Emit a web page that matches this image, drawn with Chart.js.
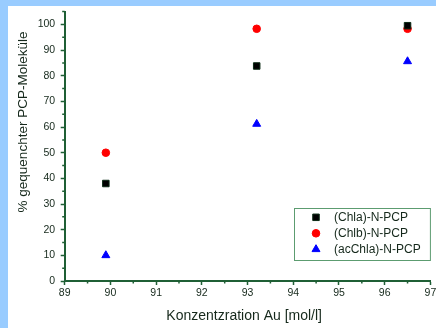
<!DOCTYPE html>
<html>
<head>
<meta charset="utf-8">
<script src="https://cdn.jsdelivr.net/npm/chart.js@4/dist/chart.umd.min.js"></script>
<style>
  html, body { margin: 0; padding: 0; }
  body { width: 436px; height: 328px; background: #99ccff; position: relative; overflow: hidden; }
  #panel { position: absolute; left: 8px; top: 6px; width: 428px; height: 322px; background: #ffffff; }
  canvas { display: block; }
</style>
</head>
<body>
<div id="panel"><canvas id="chart" width="428" height="322"></canvas></div>
<script>
// Gold concentration (mol/l) for each measurement
const concentrations = [89.9, 93.2, 96.5];

// Percentage of quenched PCP molecules per complex
const chlaValues   = [38, 83.8, 99.5];
const chlbValues   = [50, 98.3, 98.3];
const acChlaValues = [10, 61.2, 85.6];

const seriesLabels = ['(Chla)-N-PCP', '(Chlb)-N-PCP', '(acChla)-N-PCP'];

// Axis ticks
const xMajorTicks = [89, 90, 91, 92, 93, 94, 95, 96, 97];
const xMinorTicks = [89.5, 90.5, 91.5, 92.5, 93.5, 94.5, 95.5, 96.5];
const yMajorTicks = [0, 10, 20, 30, 40, 50, 60, 70, 80, 90, 100];
const yMinorTicks = [5, 15, 25, 35, 45, 55, 65, 75, 85, 95, 105];

const xTitle = 'Konzentzration Au [mol/l]';
const yTitle = '% gequenchter PCP-Moleküle';

const AXIS_COLOR = '#1f5f35';
const TEXT_COLOR = '#15281b';
const FONT_FAMILY = '"Liberation Sans", Arial, sans-serif';

function points(values) {
  return values.map((v, i) => ({ x: concentrations[i], y: v }));
}

// Minor ticks, axis titles and the framed legend
const decorations = {
  id: 'decorations',
  beforeDatasetsDraw(chart) {
    const { ctx, scales: { x, y } } = chart;
    ctx.save();
    ctx.strokeStyle = AXIS_COLOR;
    ctx.lineWidth = 1.5;
    ctx.beginPath();
    xMinorTicks.forEach(v => {
      const px = x.getPixelForValue(v);
      ctx.moveTo(px, y.bottom);
      ctx.lineTo(px, y.bottom + 2.5);
    });
    yMinorTicks.forEach(v => {
      const py = y.getPixelForValue(v);
      ctx.moveTo(x.left, py);
      ctx.lineTo(x.left - 2.5, py);
    });
    ctx.stroke();
    ctx.restore();
  },
  afterDraw(chart) {
    const { ctx, chartArea } = chart;
    ctx.save();
    ctx.fillStyle = TEXT_COLOR;

    // x-axis title
    ctx.font = '14px ' + FONT_FAMILY;
    ctx.textAlign = 'right';
    ctx.textBaseline = 'middle';
    ctx.fillText(xTitle, 314, 310.5);

    // y-axis title, rotated
    ctx.font = '13.5px ' + FONT_FAMILY;
    ctx.save();
    ctx.translate(15, 116);
    ctx.rotate(-Math.PI / 2);
    ctx.textAlign = 'center';
    ctx.textBaseline = 'middle';
    ctx.fillText(yTitle, 0, 0);
    ctx.restore();

    // legend box
    const boxLeft = 286, boxTop = 202, boxRight = chartArea.right + 0.5, boxBottom = 255;
    ctx.fillStyle = '#ffffff';
    ctx.fillRect(boxLeft, boxTop, boxRight - boxLeft, boxBottom - boxTop);
    ctx.strokeStyle = '#5c9c70';
    ctx.lineWidth = 1;
    ctx.strokeRect(boxLeft + 0.5, boxTop + 0.5, boxRight - boxLeft - 1, boxBottom - boxTop - 1);

    ctx.font = '12px ' + FONT_FAMILY;
    ctx.textAlign = 'left';
    ctx.textBaseline = 'middle';
    chart.data.datasets.forEach((ds, i) => {
      const rowY = 211.3 + i * 16;
      ctx.fillStyle = ds.backgroundColor;
      ctx.strokeStyle = ds.borderColor;
      ctx.lineWidth = 1;
      Chart.helpers.drawPoint(ctx, {
        pointStyle: ds.pointStyle,
        radius: ds.pointRadius,
        rotation: 0,
        borderWidth: 1
      }, 308, rowY);
      ctx.fillStyle = TEXT_COLOR;
      ctx.fillText(ds.label, 326, rowY + 0.5);
    });
    ctx.restore();
  }
};

new Chart(document.getElementById('chart'), {
  type: 'scatter',
  data: {
    datasets: [
      {
        label: seriesLabels[0],
        data: points(chlaValues),
        pointStyle: 'rect',
        pointRadius: 4.6,
        backgroundColor: '#000000',
        borderColor: '#0b2a14',
        borderWidth: 1
      },
      {
        label: seriesLabels[1],
        data: points(chlbValues),
        pointStyle: 'circle',
        pointRadius: 3.8,
        backgroundColor: '#ff0000',
        borderColor: '#ff0000',
        borderWidth: 1
      },
      {
        label: seriesLabels[2],
        data: points(acChlaValues),
        pointStyle: 'triangle',
        pointRadius: 4.6,
        backgroundColor: '#0000ff',
        borderColor: '#0000ff',
        borderWidth: 1
      }
    ]
  },
  options: {
    responsive: false,
    devicePixelRatio: 1,
    animation: false,
    events: [],
    layout: { padding: { top: 4.4, right: 5, left: 0, bottom: 0 } },
    plugins: {
      legend: { display: false },
      tooltip: { enabled: false }
    },
    scales: {
      x: {
        type: 'linear',
        min: 89,
        max: 97,
        afterBuildTicks: scale => { scale.ticks = xMajorTicks.map(v => ({ value: v })); },
        afterFit: scale => {
          scale.height = 47;
          scale.paddingLeft = 0;
          scale.paddingRight = 0;
        },
        ticks: {
          autoSkip: false,
          maxRotation: 0,
          padding: 2,
          color: TEXT_COLOR,
          font: { family: FONT_FAMILY, size: 10.5 }
        },
        grid: {
          drawOnChartArea: false,
          drawTicks: true,
          tickLength: 4,
          tickColor: AXIS_COLOR,
          tickWidth: 1.5
        },
        border: { display: true, color: AXIS_COLOR, width: 2 }
      },
      y: {
        type: 'linear',
        min: 0,
        max: 105,
        afterBuildTicks: scale => { scale.ticks = yMajorTicks.map(v => ({ value: v })); },
        afterFit: scale => {
          scale.width = 56.7;
          scale.paddingTop = 0;
          scale.paddingBottom = 0;
        },
        ticks: {
          autoSkip: false,
          padding: 5.5,
          color: TEXT_COLOR,
          font: { family: FONT_FAMILY, size: 10.5 }
        },
        grid: {
          drawOnChartArea: false,
          drawTicks: true,
          tickLength: 4,
          tickColor: AXIS_COLOR,
          tickWidth: 1.5
        },
        border: { display: true, color: AXIS_COLOR, width: 2 }
      }
    }
  },
  plugins: [decorations]
});
</script>
</body>
</html>
